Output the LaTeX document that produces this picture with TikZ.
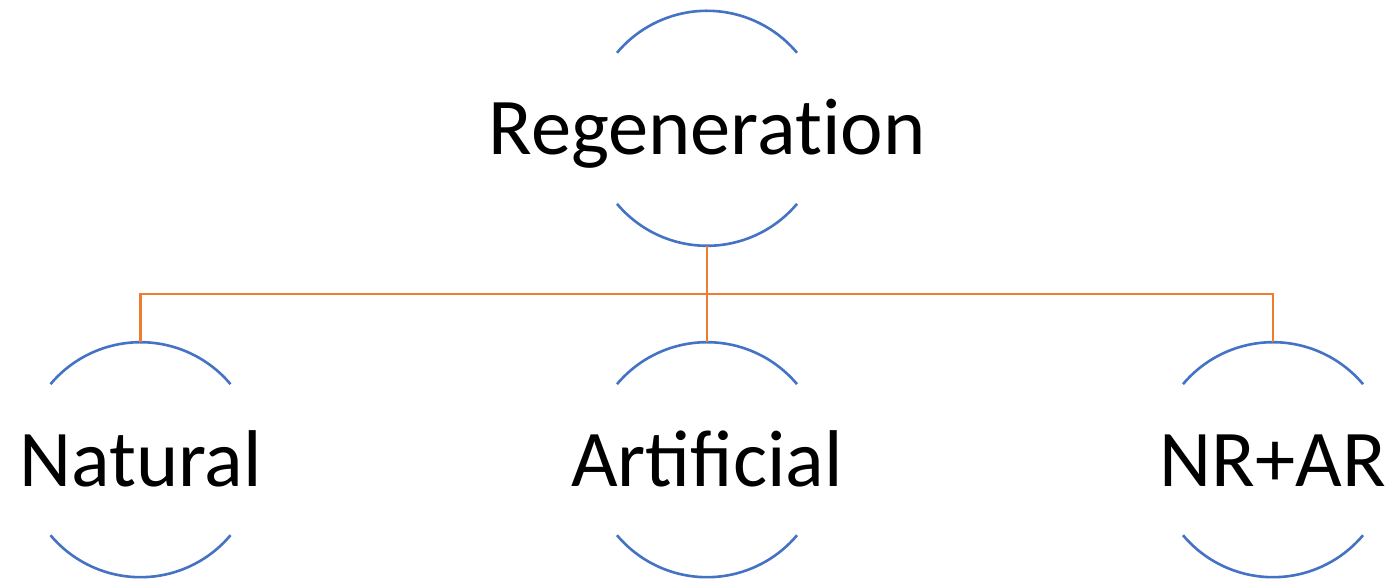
\documentclass[tikz,border=0pt]{standalone}
\usepackage{fontspec}
\setmainfont{Carlito}
\definecolor{arcblue}{HTML}{4472C4}
\definecolor{linkorange}{HTML}{ED7D31}
\begin{document}
\begin{tikzpicture}[x=1pt,y=1pt,
  circnode/.style={circle, minimum size=235pt, inner sep=0pt, outer sep=0pt},
  labeltext/.style={inner sep=0pt, outer sep=0pt,
    text height=53pt, text depth=0pt, font=\fontsize{80.5}{96}\selectfont},
  arcline/.style={draw=arcblue, line width=2.6pt},
  conn/.style={draw=linkorange, line width=2.4pt}]
\useasboundingbox (0,0) rectangle (1399,580);
\node[circnode] (reg) at (707,451.7) {};
\node[circnode] (nat) at (140.5,120.3) {};
\node[circnode] (art) at (707,120.3) {};
\node[circnode] (nr)  at (1273,120.3) {};
\node[labeltext] (regt) at (reg.center) {Regenerat\kern0pt ion};
\node[labeltext] (natt) at (nat.center) {Natural};
\node[labeltext] (artt) at (art.center) {Artificial};
\node[labeltext] (nrt)  at (nr.center) {NR+AR};
\coordinate (bus) at (0,286);
\foreach \n in {reg,nat,art,nr}{
  \draw[arcline] (\n.40) arc[start angle=40, end angle=140, radius=117.5pt];
  \draw[arcline] (\n.220) arc[start angle=220, end angle=320, radius=117.5pt];
}
\draw[conn] (reg.south) -- (reg.south |- bus);
\draw[conn] (nat.north) |- (bus -| nr.north) -- (nr.north);
\draw[conn] (art.north) -- (art.north |- bus);
\end{tikzpicture}
\end{document}
